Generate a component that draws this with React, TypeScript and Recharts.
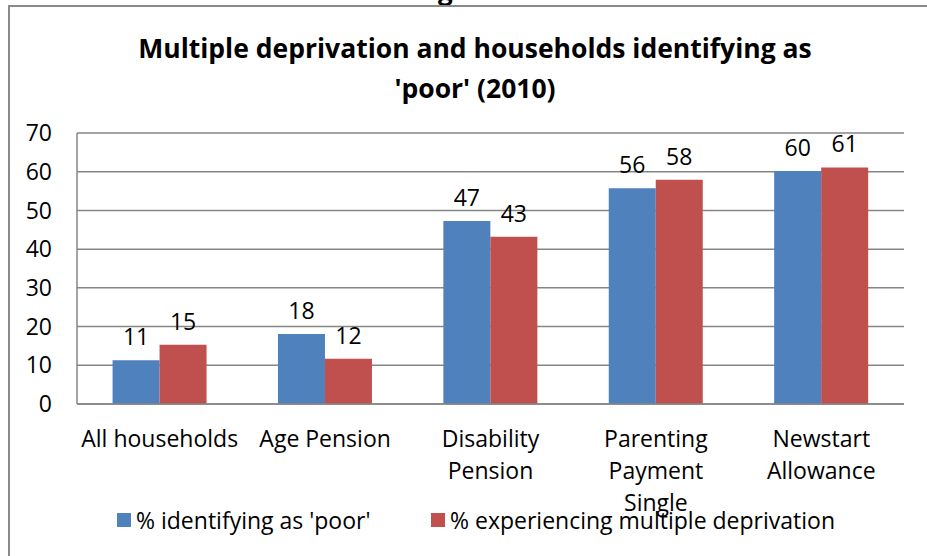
import React from 'react';
import { BarChart, Bar, XAxis, YAxis, CartesianGrid, LabelList } from 'recharts';

const categories = [
  'All households',
  'Age Pension',
  'Disability Pension',
  'Parenting Payment Single',
  'Newstart Allowance',
];

// how Excel wrapped the category names
const tickLines = [
  ['All households'],
  ['Age Pension'],
  ['Disability', 'Pension'],
  ['Parenting', 'Payment', 'Single'],
  ['Newstart', 'Allowance'],
];

const poor = [11.3, 18.1, 47.3, 55.7, 60.2];
const deprived = [15.3, 11.7, 43.2, 57.9, 61.1];

const yTicks = [0, 10, 20, 30, 40, 50, 60, 70];

const seriesNames = ["% identifying as 'poor'", '% experiencing multiple deprivation'];
const colors = ['#4f81bd', '#c0504d'];

const FONT = '"Open Sans", Lato, sans-serif';
const FS = 23;
const GRID = '#868686';

const data = categories.map((name, i) => ({
  name,
  poor: poor[i],
  deprived: deprived[i],
}));

const CategoryTick = (props: any) => {
  const { x, y, index } = props;
  const lines = tickLines[index] || [];
  return (
    <g>
      {lines.map((line, i) => (
        <text
          key={i}
          x={x}
          y={y + 34 + i * 32}
          textAnchor="middle"
          dominantBaseline="central"
          fontFamily={FONT}
          fontSize={FS}
          fill="#000"
        >
          {line}
        </text>
      ))}
    </g>
  );
};

const App: React.FC = () => {
  return (
    <div
      style={{
        position: 'absolute',
        left: 0,
        top: 0,
        width: 927,
        height: 556,
        background: '#fff',
        overflow: 'hidden',
        fontFamily: FONT,
      }}
    >
      {/* bit of the caption above the chart frame */}
      <div
        style={{
          position: 'absolute',
          left: 438,
          top: -23,
          fontSize: 26,
          fontWeight: 700,
          lineHeight: '26px',
        }}
      >
        g
      </div>
      <div
        style={{
          position: 'absolute',
          left: 8,
          top: 5,
          width: 1000,
          height: 600,
          border: '2px solid #8a8a8a',
          boxSizing: 'border-box',
        }}
      />
      <div
        style={{
          position: 'absolute',
          left: 0,
          width: 950,
          top: 28,
          textAlign: 'center',
          fontSize: 26.5,
          fontWeight: 700,
          lineHeight: '40px',
          color: '#000',
        }}
      >
        Multiple deprivation and households identifying as
        <br />
        'poor' (2010)
      </div>

      <div style={{ position: 'absolute', left: 0, top: 0 }}>
        <BarChart
          width={927}
          height={556}
          data={data}
          margin={{ top: 133, right: 23, left: 0, bottom: 0 }}
          barGap={0}
          barCategoryGap="21.5%"
        >
          <CartesianGrid vertical={false} stroke={GRID} strokeWidth={1.5} />
          <XAxis
            dataKey="name"
            height={152}
            tickLine={false}
            tickSize={0}
            tickMargin={0}
            axisLine={{ stroke: GRID, strokeWidth: 1.5 }}
            tick={<CategoryTick />}
            interval={0}
          />
          <YAxis
            width={77}
            domain={[0, 70]}
            ticks={yTicks}
            tickLine={false}
            tickSize={0}
            tickMargin={25}
            axisLine={{ stroke: GRID, strokeWidth: 1.5 }}
            tick={{ fontSize: FS, fill: '#000', fontFamily: FONT }}
          />
          <Bar dataKey="poor" fill={colors[0]} isAnimationActive={false}>
            <LabelList
              dataKey="poor"
              position="top"
              offset={15}
              formatter={(v: any) => Math.round(Number(v))}
              style={{ fontSize: FS, fill: '#000', fontFamily: FONT }}
            />
          </Bar>
          <Bar dataKey="deprived" fill={colors[1]} isAnimationActive={false}>
            <LabelList
              dataKey="deprived"
              position="top"
              offset={15}
              formatter={(v: any) => Math.round(Number(v))}
              style={{ fontSize: FS, fill: '#000', fontFamily: FONT }}
            />
          </Bar>
        </BarChart>
      </div>

      {/* legend */}
      {seriesNames.map((name, i) => (
        <div
          key={name}
          style={{
            position: 'absolute',
            left: [117, 431][i],
            top: 505,
            height: 30,
            display: 'flex',
            alignItems: 'center',
            fontSize: FS,
            color: '#000',
            whiteSpace: 'nowrap',
          }}
        >
          <span
            style={{
              display: 'inline-block',
              width: 14,
              height: 14,
              background: colors[i],
              marginRight: 5,
            }}
          />
          {name}
        </div>
      ))}
    </div>
  );
};

export default App;
